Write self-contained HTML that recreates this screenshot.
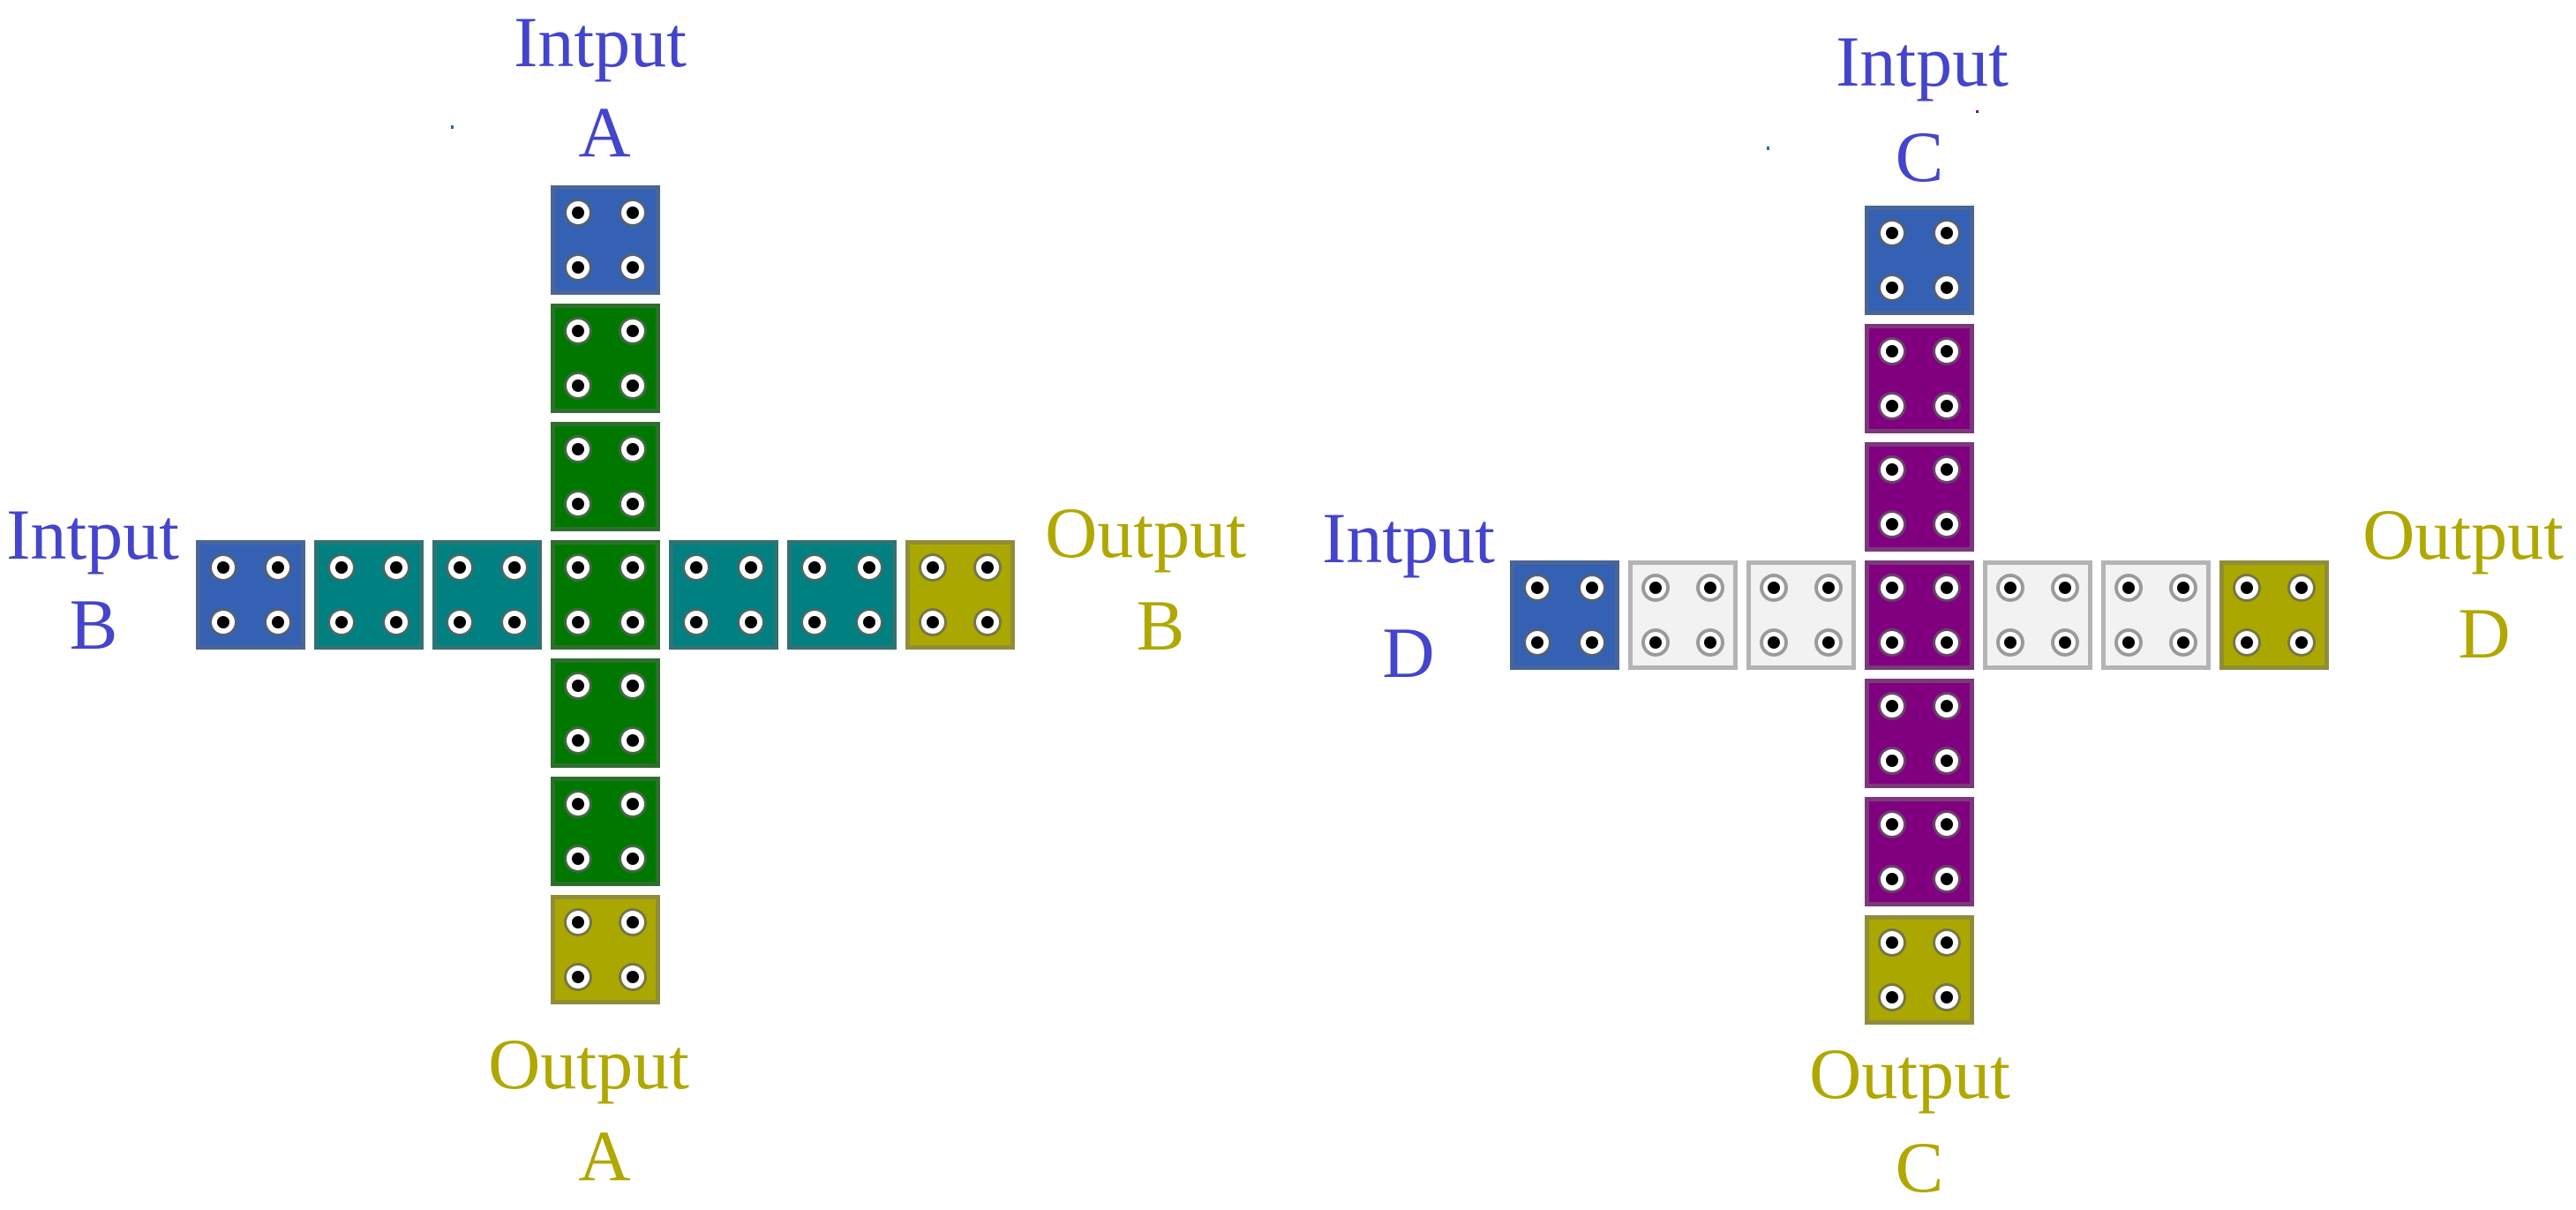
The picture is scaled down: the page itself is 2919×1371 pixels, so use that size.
<!DOCTYPE html>
<html><head><meta charset="utf-8"><style>
html,body{margin:0;padding:0;background:#fff;width:2919px;height:1371px;overflow:hidden}
svg{display:block}
text{font-family:"Liberation Serif",serif;font-size:82px;text-anchor:middle}
.b{fill:#4444cc}.o{fill:#b0a800}
</style></head><body>
<svg width="2919" height="1371" viewBox="0 0 2919 1371" xmlns="http://www.w3.org/2000/svg">
<defs>
<g id="h"><circle r="16" fill="#606060" opacity="0.7"/><circle r="13" fill="#fff"/><circle r="7" fill="#000"/></g>
<g id="hg"><circle r="16" fill="#9a9a9a"/><circle r="12" fill="#fff"/><circle r="7" fill="#000"/></g>
<g id="holes"><use href="#h" x="31" y="31"/><use href="#h" x="93" y="31"/><use href="#h" x="31" y="93"/><use href="#h" x="93" y="93"/></g>
<g id="holesg"><use href="#hg" x="31" y="31"/><use href="#hg" x="93" y="31"/><use href="#hg" x="31" y="93"/><use href="#hg" x="93" y="93"/></g>
<g id="blue"><rect x="2.5" y="2.5" width="119" height="119" fill="#3461b3" stroke="#4a6596" stroke-width="5"/><use href="#holes"/></g>
<g id="green"><rect x="2.5" y="2.5" width="119" height="119" fill="#007800" stroke="#2f6e2f" stroke-width="5"/><use href="#holes"/></g>
<g id="teal"><rect x="2.5" y="2.5" width="119" height="119" fill="#008080" stroke="#2f7373" stroke-width="5"/><use href="#holes"/></g>
<g id="olive"><rect x="2.5" y="2.5" width="119" height="119" fill="#aaa800" stroke="#8f8d3a" stroke-width="5"/><use href="#holes"/></g>
<g id="purple"><rect x="2.5" y="2.5" width="119" height="119" fill="#800080" stroke="#7a3a7a" stroke-width="5"/><use href="#holes"/></g>
<g id="gray"><rect x="2.5" y="2.5" width="119" height="119" fill="#f2f2f2" stroke="#b4b4b4" stroke-width="5"/><use href="#holesg"/></g>
</defs>
<!-- left cross -->
<use href="#blue" x="624" y="210"/>
<use href="#green" x="624" y="344"/>
<use href="#green" x="624" y="478"/>
<use href="#green" x="624" y="612"/>
<use href="#green" x="624" y="746"/>
<use href="#green" x="624" y="880"/>
<use href="#olive" x="624" y="1014"/>
<use href="#blue" x="222" y="612"/>
<use href="#teal" x="356" y="612"/>
<use href="#teal" x="490" y="612"/>
<use href="#teal" x="758" y="612"/>
<use href="#teal" x="892" y="612"/>
<use href="#olive" x="1026" y="612"/>
<!-- right cross -->
<use href="#blue" x="2113" y="233"/>
<use href="#purple" x="2113" y="367"/>
<use href="#purple" x="2113" y="501"/>
<use href="#purple" x="2113" y="635"/>
<use href="#purple" x="2113" y="769"/>
<use href="#purple" x="2113" y="903"/>
<use href="#olive" x="2113" y="1037"/>
<use href="#blue" x="1711" y="635"/>
<use href="#gray" x="1845" y="635"/>
<use href="#gray" x="1979" y="635"/>
<use href="#gray" x="2247" y="635"/>
<use href="#gray" x="2381" y="635"/>
<use href="#olive" x="2515" y="635"/>
<!-- specks -->
<rect x="511" y="142" width="3" height="4" fill="#3461b3"/>
<rect x="2002" y="166" width="3" height="4" fill="#3461b3"/>
<rect x="2239" y="125" width="3" height="3" fill="#800080"/>
<!-- labels -->
<text class="b" x="680" y="75">Intput</text>
<text class="b" x="685" y="177">A</text>
<text class="b" x="105" y="633">Intput</text>
<text class="b" x="106" y="735">B</text>
<text class="o" x="1298" y="631">Output</text>
<text class="o" x="1315" y="736">B</text>
<text class="o" x="667" y="1233">Output</text>
<text class="o" x="685" y="1337">A</text>
<text class="b" x="2178" y="97">Intput</text>
<text class="b" x="2175" y="205">C</text>
<text class="b" x="1596" y="637">Intput</text>
<text class="b" x="1596" y="767">D</text>
<text class="o" x="2791" y="633">Output</text>
<text class="o" x="2815" y="745">D</text>
<text class="o" x="2164" y="1244">Output</text>
<text class="o" x="2175" y="1350">C</text>
</svg>
</body></html>
